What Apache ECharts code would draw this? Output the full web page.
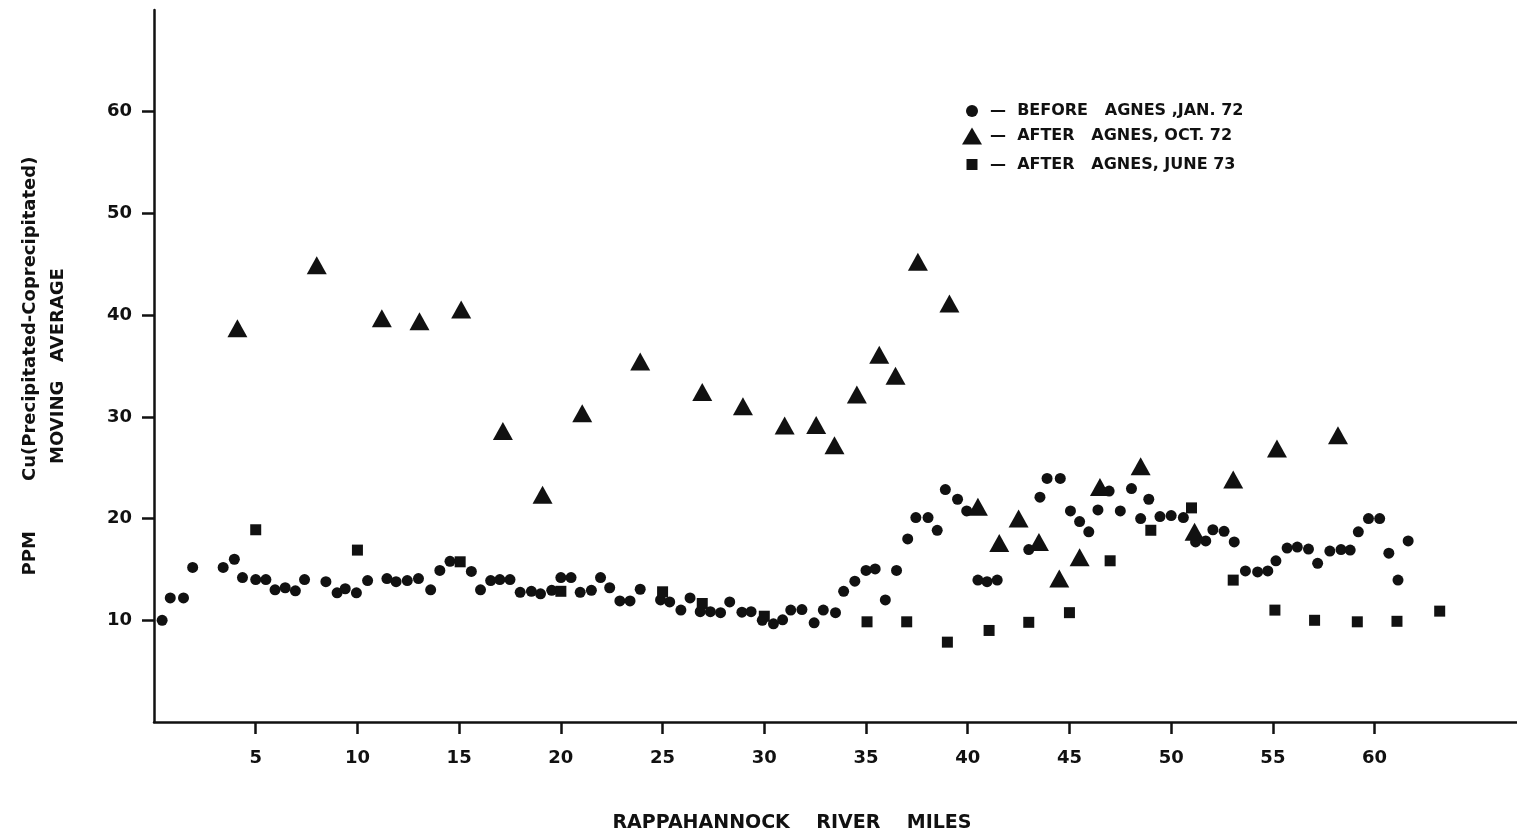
<!DOCTYPE html>
<html>
<head>
<meta charset="utf-8">
<title>PPM Cu - Rappahannock River</title>
<script src="https://cdn.jsdelivr.net/npm/echarts@6/dist/echarts.min.js"></script>
<style>
  html, body { margin: 0; padding: 0; background: #fff; }
  #chart { width: 1517px; height: 837px; }
</style>
</head>
<body>
<div id="chart"></div>
<script>
// [river mile, ppm]
var beforeJan72 = [
  [0.4, 10.0], [0.8, 12.2], [1.45, 12.2], [1.9, 15.2], [3.4, 15.2], [3.95, 16.0],
  [4.35, 14.2], [5.0, 14.0], [5.5, 14.0], [5.95, 13.0], [6.45, 13.2], [6.95, 12.9],
  [7.4, 14.0], [8.45, 13.8], [9.0, 12.7], [9.4, 13.1], [9.95, 12.7], [10.5, 13.9],
  [11.45, 14.1], [11.9, 13.8], [12.45, 13.9], [13.0, 14.1], [13.6, 13.0], [14.05, 14.9],
  [14.55, 15.8], [15.6, 14.8], [16.05, 13.0], [16.55, 13.9], [17.0, 14.0], [17.5, 14.0],
  [18.0, 12.75], [18.55, 12.85], [19.0, 12.6], [19.55, 12.95], [20.0, 14.2], [20.5, 14.2],
  [20.95, 12.75], [21.5, 12.95], [21.95, 14.2], [22.4, 13.2], [22.9, 11.9], [23.4, 11.9],
  [23.9, 13.05], [24.9, 12.0], [25.35, 11.8], [25.9, 11.0], [26.35, 12.2], [26.85, 10.85],
  [27.35, 10.85], [27.85, 10.75], [28.3, 11.8], [28.9, 10.8], [29.35, 10.85], [29.9, 10.0],
  [30.45, 9.65], [30.9, 10.05], [31.3, 11.0], [31.85, 11.05], [32.45, 9.75], [32.9, 11.0],
  [33.5, 10.75], [33.9, 12.85], [34.45, 13.85], [35.0, 14.9], [35.45, 15.05], [35.95, 12.0],
  [36.5, 14.9], [37.05, 18.0], [37.45, 20.1], [38.05, 20.1], [38.5, 18.85], [38.9, 22.85],
  [39.5, 21.9], [39.95, 20.75], [40.5, 13.95], [40.95, 13.8], [41.45, 13.95], [43.0, 16.95],
  [43.55, 22.1], [43.9, 23.95], [44.55, 23.95], [45.05, 20.75], [45.5, 19.7], [45.95, 18.7],
  [46.4, 20.85], [46.95, 22.7], [47.5, 20.75], [48.05, 22.95], [48.5, 20.0], [48.9, 21.9],
  [49.45, 20.2], [50.0, 20.3], [50.6, 20.1], [51.2, 17.7], [51.7, 17.8], [52.05, 18.9],
  [52.6, 18.75], [53.1, 17.7], [53.65, 14.85], [54.25, 14.75], [54.75, 14.85], [55.15, 15.85],
  [55.7, 17.1], [56.2, 17.2], [56.75, 17.0], [57.2, 15.6], [57.8, 16.8], [58.35, 16.95],
  [58.8, 16.9], [59.2, 18.7], [59.7, 20.0], [60.25, 20.0], [60.7, 16.6], [61.15, 13.95],
  [61.65, 17.8]
];

var afterOct72 = [
  [4.1, 38.7], [8.0, 44.9], [11.2, 39.7], [13.05, 39.4], [15.1, 40.55], [17.15, 28.6],
  [19.1, 22.35], [21.05, 30.35], [23.9, 35.45], [26.95, 32.45], [28.95, 31.05], [31.0, 29.15],
  [32.55, 29.2], [33.45, 27.2], [34.55, 32.2], [35.65, 36.1], [36.45, 34.05], [37.55, 45.25],
  [39.1, 41.15], [40.5, 21.15], [41.55, 17.6], [42.5, 20.0], [43.5, 17.7], [44.5, 14.1],
  [45.5, 16.2], [46.5, 23.1], [48.5, 25.15], [51.15, 18.7], [53.05, 23.85], [55.2, 26.9],
  [58.2, 28.2]
];

var afterJune73 = [
  [5.0, 18.9], [10.0, 16.9], [15.05, 15.75], [20.0, 12.85], [25.0, 12.8], [26.95, 11.65],
  [30.0, 10.4], [35.05, 9.85], [37.0, 9.85], [39.0, 7.85], [41.05, 9.0], [43.0, 9.8],
  [45.0, 10.75], [47.0, 15.85], [49.0, 18.85], [51.0, 21.05], [53.05, 13.95], [55.1, 11.0],
  [57.05, 10.0], [59.15, 9.85], [61.1, 9.9], [63.2, 10.9]
];

var mileTicks = [5, 10, 15, 20, 25, 30, 35, 40, 45, 50, 55, 60];
var ppmTicks = [10, 20, 30, 40, 50, 60];

var seriesNames = ['BEFORE   AGNES ,JAN. 72', 'AFTER   AGNES, OCT. 72', 'AFTER   AGNES, JUNE 73'];

var ink = '#111';
var font = 'DejaVu Sans';

var chart = echarts.init(document.getElementById('chart'));

// one legend per series so each icon keeps its own size; text lines up at x=985
function legendFor(name, cy, w, h) {
  var left = 967 - w / 2;
  return {
    data: [name],
    left: left,
    top: cy - h / 2,
    itemWidth: w,
    itemHeight: h,
    selectedMode: false,
    formatter: '—  {name}',
    textStyle: {
      fontFamily: font,
      fontWeight: 'bold',
      fontSize: 16,
      color: ink,
      padding: [0, 0, 0, 985 - (left + w + 5)]
    }
  };
}

var option = {
  backgroundColor: '#fff',
  animation: false,
  title: {
    text: 'RAPPAHANNOCK    RIVER    MILES',
    left: 787,
    top: 809,
    textAlign: 'center',
    textStyle: { fontFamily: font, fontWeight: 'bold', fontSize: 19, color: ink }
  },
  legend: [
    legendFor(seriesNames[0], 104, 12, 12),
    legendFor(seriesNames[1], 131, 20, 17),
    legendFor(seriesNames[2], 157, 11, 11)
  ],
  grid: { left: 154, right: 0, top: 10, bottom: 115 },
  xAxis: {
    type: 'value',
    min: 0,
    max: 67,
    splitLine: { show: false },
    axisLine: { show: true, lineStyle: { color: ink, width: 2.5 } },
    axisTick: { show: true, length: 12, lineStyle: { color: ink, width: 2.5 }, customValues: mileTicks },
    axisLabel: {
      customValues: mileTicks,
      margin: 27,
      fontFamily: font,
      fontWeight: 'bold',
      fontSize: 18,
      color: ink
    }
  },
  yAxis: {
    type: 'value',
    min: 0,
    max: 70,
    name: 'PPM        Cu(Precipitated-Coprecipitated)\nMOVING   AVERAGE',
    nameLocation: 'middle',
    nameGap: 82,
    nameTextStyle: {
      fontFamily: font,
      fontWeight: 'bold',
      fontSize: 18,
      lineHeight: 28,
      color: ink
    },
    splitLine: { show: false },
    axisLine: { show: true, lineStyle: { color: ink, width: 2.5 } },
    axisTick: { show: true, length: 12, lineStyle: { color: ink, width: 2.5 }, customValues: ppmTicks },
    axisLabel: {
      customValues: ppmTicks,
      margin: 22,
      fontFamily: font,
      fontWeight: 'bold',
      fontSize: 18,
      color: ink
    }
  },
  series: [
    {
      name: seriesNames[0],
      type: 'scatter',
      symbol: 'circle',
      symbolSize: 11,
      itemStyle: { color: ink, opacity: 1 },
      data: beforeJan72
    },
    {
      name: seriesNames[1],
      type: 'scatter',
      symbol: 'triangle',
      symbolSize: [20, 18],
      itemStyle: { color: ink, opacity: 1 },
      data: afterOct72
    },
    {
      name: seriesNames[2],
      type: 'scatter',
      symbol: 'rect',
      symbolSize: 11,
      itemStyle: { color: ink, opacity: 1 },
      data: afterJune73
    }
  ]
};

chart.setOption(option);
</script>
</body>
</html>
